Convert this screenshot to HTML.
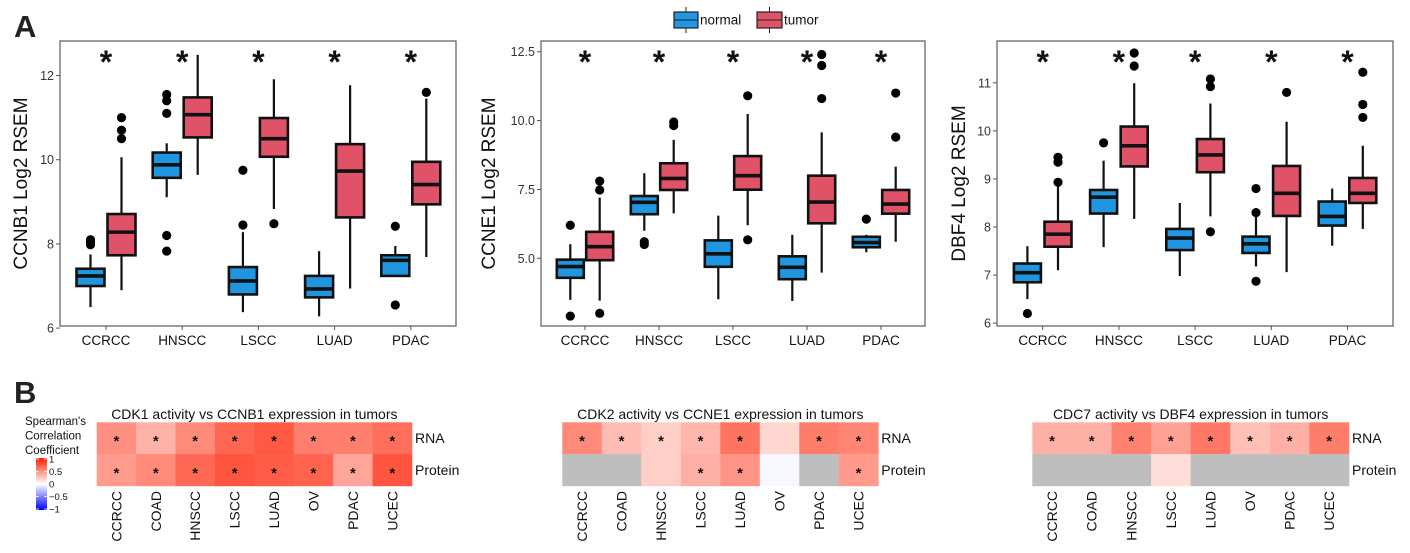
<!DOCTYPE html>
<html><head><meta charset="utf-8"><style>
html,body{margin:0;padding:0;background:#fff}
svg{display:block;font-family:"Liberation Sans",Arial,sans-serif}
</style></head><body>
<svg id="fig" width="1410" height="553" viewBox="0 0 1410 553" xmlns="http://www.w3.org/2000/svg">
<text x="14" y="37" font-size="31" font-weight="bold" fill="#222">A</text>
<text x="14" y="403" font-size="31" font-weight="bold" fill="#222">B</text>
<g>
<line x1="686" y1="7" x2="686" y2="33" stroke="#222" stroke-width="1"/>
<rect x="674" y="12" width="24" height="16" fill="#2196E0" stroke="#222" stroke-width="1.2"/>
<line x1="674" y1="20" x2="698" y2="20" stroke="#222" stroke-width="1"/>
<text x="700" y="24.5" font-size="13.5" fill="#111">normal</text>
<line x1="769.5" y1="7" x2="769.5" y2="33" stroke="#222" stroke-width="1"/>
<rect x="757" y="12" width="25" height="16" fill="#E05268" stroke="#222" stroke-width="1.2"/>
<line x1="757" y1="20" x2="782" y2="20" stroke="#222" stroke-width="1"/>
<text x="784" y="24.5" font-size="13.5" fill="#111">tumor</text>
</g>
</svg>
<script>
// ---------- Box plot data ----------
const boxCategories = ["CCRCC","HNSCC","LSCC","LUAD","PDAC"];
// each entry: [low, q1, median, q3, high]
const ccnb1Normal = [[6.5,7.0,7.24,7.41,7.75],[9.11,9.57,9.88,10.17,10.39],[6.38,6.8,7.12,7.45,8.28],[6.28,6.73,6.93,7.24,7.83],[7.24,7.24,7.61,7.73,7.95]];
const ccnb1Tumor  = [[6.9,7.73,8.28,8.71,10.06],[9.64,10.53,11.07,11.48,12.49],[8.83,10.07,10.5,10.99,11.91],[6.94,8.63,9.73,10.37,11.77],[7.69,8.94,9.41,9.95,11.45]];
const ccnb1NormalOut = [[8.1,8.04,7.98],[11.55,11.4,11.1,8.2,7.83],[9.75,8.45],[],[8.42,6.55]];
const ccnb1TumorOut  = [[11.0,10.7,10.5],[],[8.48],[],[11.6]];
const ccnb1Ticks = [6,8,10,12];

const ccne1Normal = [[3.49,4.29,4.7,4.95,5.51],[6.0,6.6,7.03,7.26,8.09],[3.51,4.69,5.16,5.65,6.55],[3.45,4.24,4.67,5.07,5.85],[5.22,5.4,5.57,5.78,5.85]];
const ccne1Tumor  = [[3.46,4.93,5.42,5.96,7.2],[6.63,7.48,7.9,8.45,9.3],[6.2,7.49,8.0,8.71,10.24],[4.48,6.27,7.04,8.0,9.57],[5.6,6.62,6.97,7.48,8.33]];
const ccne1NormalOut = [[6.2,2.9],[5.6,5.5],[],[],[6.42]];
const ccne1TumorOut  = [[7.8,7.48,3.0],[9.95,9.82],[10.9,5.67],[12.4,12.0,10.8],[11.0,9.4]];
const ccne1Ticks = [5.0,7.5,10.0,12.5];

const dbf4Normal = [[6.5,6.85,7.05,7.24,7.6],[7.58,8.28,8.62,8.77,9.38],[6.98,7.52,7.77,7.96,8.5],[7.18,7.46,7.65,7.8,8.22],[7.61,8.03,8.22,8.53,8.8]];
const dbf4Tumor  = [[7.1,7.59,7.85,8.11,8.85],[8.17,9.26,9.69,10.09,10.99],[8.22,9.14,9.5,9.83,10.57],[7.06,8.23,8.7,9.27,10.19],[7.96,8.5,8.7,9.02,9.69]];
const dbf4NormalOut = [[6.2],[9.75],[],[8.8,8.3,6.87],[]];
const dbf4TumorOut  = [[9.45,9.35,8.93],[11.62,11.35],[11.08,10.92,7.9],[10.8],[11.22,10.55,10.28]];
const dbf4Ticks = [6,7,8,9,10,11];

// ---------- Heatmap data ----------
const heatCategories = ["CCRCC","COAD","HNSCC","LSCC","LUAD","OV","PDAC","UCEC"];
const cdk1Rna     = [0.5,0.34,0.52,0.68,0.74,0.57,0.57,0.64];
const cdk1Protein = [0.44,0.52,0.67,0.76,0.72,0.7,0.4,0.76];
const cdk1RnaSig     = [1,1,1,1,1,1,1,1];
const cdk1ProteinSig = [1,1,1,1,1,1,1,1];
const cdk2Rna     = [0.52,0.3,0.22,0.32,0.62,0.18,0.58,0.54];
const cdk2Protein = [null,null,0.22,0.35,0.48,-0.03,null,0.45];
const cdk2RnaSig     = [1,1,1,1,1,0,1,1];
const cdk2ProteinSig = [0,0,0,1,1,0,0,1];
const cdc7Rna     = [0.35,0.35,0.56,0.42,0.6,0.28,0.35,0.58];
const cdc7Protein = [null,null,null,0.15,null,null,null,null];
const cdc7RnaSig     = [1,1,1,1,1,1,1,1];
const cdc7ProteinSig = [0,0,0,0,0,0,0,0];

const NS="http://www.w3.org/2000/svg";
const svg=document.getElementById('fig');
function mk(tag,attrs,parent){const e=document.createElementNS(NS,tag);for(const k in attrs)e.setAttribute(k,attrs[k]);(parent||svg).appendChild(e);return e;}

function boxPanel(cfg){
  const g=mk('g',{});
  
  
  const [x0,x1,y0,y1]=cfg.rect;
  const yv=v=>y1-(v-cfg.dom[0])/(cfg.dom[1]-cfg.dom[0])*(y1-y0);
  const xc=i=>cfg.cx0+i*cfg.step;
  const frame=mk('rect',{x:x0,y:y0,width:x1-x0,height:y1-y0,fill:'none',stroke:'#666','stroke-width':1.3},g);
  
  
  cfg.ticks.forEach(t=>{
    const y=yv(t);
    mk('line',{x1:x0-4,x2:x0,y1:y,y2:y,stroke:'#555','stroke-width':1},g);
    const tx=mk('text',{x:x0-6,y:y+4.5,'font-size':12.5,'text-anchor':'end',fill:'#333'},g);
    tx.textContent=cfg.fmt(t);
    
    
  });
  const yt=mk('text',{x:0,y:0,'font-size':19,'text-anchor':'middle',fill:'#111',transform:`translate(${cfg.titleX},${(y0+y1)/2}) rotate(-90)`},g);
  yt.textContent=cfg.title;
  
  
  boxCategories.forEach((c,i)=>{
    const x=xc(i);
    mk('line',{x1:x,x2:x,y1:y1,y2:y1+4,stroke:'#555','stroke-width':1},g);
    const lb=mk('text',{x:x,y:y1+19,'font-size':13.5,'text-anchor':'middle',fill:'#111'},g);
    lb.textContent=c;
    
    
    const st=mk('text',{x:x,y:y0+32,'font-size':32,'font-weight':'bold','text-anchor':'middle',fill:'#111'},g);
    st.textContent='*';
    
    
    [[cfg.normal,cfg.normalOut,-cfg.off,'#2196E0','normal'],[cfg.tumor,cfg.tumorOut,cfg.off,'#E05268','tumor']].forEach(([d,o,off,col,nm])=>{
      const s=d[i];const bx=x+off;const w=cfg.bw;
      const bg=mk('g',{},g);
      
      
      mk('line',{x1:bx,x2:bx,y1:yv(s[0]),y2:yv(s[4]),stroke:'#111','stroke-width':2.2},bg);
      mk('rect',{x:bx-w/2,y:yv(s[3]),width:w,height:yv(s[1])-yv(s[3]),fill:col,stroke:'#111','stroke-width':2.6},bg);
      mk('line',{x1:bx-w/2,x2:bx+w/2,y1:yv(s[2]),y2:yv(s[2]),stroke:'#111','stroke-width':3.6},bg);
      o[i].forEach(v=>{
        const p=mk('circle',{cx:bx,cy:yv(v),r:4.6,fill:'#000'},bg);
        
        
      });
    });
  });
}
boxPanel({name:'ccnb1-boxplot',rect:[60,456,41,326],dom:[6.05,12.82],cx0:106,step:76.2,off:15.5,bw:28,ticks:ccnb1Ticks,fmt:t=>String(t),title:'CCNB1 Log2 RSEM',titleX:27,normal:ccnb1Normal,tumor:ccnb1Tumor,normalOut:ccnb1NormalOut,tumorOut:ccnb1TumorOut});
boxPanel({name:'ccne1-boxplot',rect:[541,925,41,326],dom:[2.54,12.89],cx0:585,step:74,off:14.7,bw:27,ticks:ccne1Ticks,fmt:t=>t.toFixed(1),title:'CCNE1 Log2 RSEM',titleX:495,normal:ccne1Normal,tumor:ccne1Tumor,normalOut:ccne1NormalOut,tumorOut:ccne1TumorOut});
boxPanel({name:'dbf4-boxplot',rect:[997,1393,41,326],dom:[5.94,11.87],cx0:1042.7,step:76.2,off:15.3,bw:27,ticks:dbf4Ticks,fmt:t=>String(t),title:'DBF4 Log2 RSEM',titleX:965,normal:dbf4Normal,tumor:dbf4Tumor,normalOut:dbf4NormalOut,tumorOut:dbf4TumorOut});

function heatColor(v){
  if(v===null)return '#BEBEBE';
  if(v>=0){const g=Math.round(255-v*225),b=Math.round(255-v*255);return `rgb(255,${g},${b})`;}
  const a=-v;return `rgb(${Math.round(255-a*255)},${Math.round(255-a*255)},255)`;
}
function heatmap(cfg){
  const g=mk('g',{});
  
  
  const cw=(cfg.x1-cfg.x0)/heatCategories.length, ch=31.8;
  const tt=mk('text',{x:(cfg.x0+cfg.x1)/2,y:419,'font-size':14,'text-anchor':'middle',fill:'#111'},g);
  tt.textContent=cfg.title;
  
  
  [[cfg.rna,cfg.rnaSig,'RNA'],[cfg.protein,cfg.proteinSig,'Protein']].forEach(([vals,sig,lab],r)=>{
    const y=422.3+r*ch;
    vals.forEach((v,i)=>{
      const x=cfg.x0+i*cw;
      const c=mk('rect',{x:x,y:y,width:cw+0.3,height:ch+0.3,fill:heatColor(v)},g);
      
      
      if(sig[i]){
        const s=mk('text',{x:x+cw/2,y:y+ch/2+8,'font-size':15,'font-weight':'bold','text-anchor':'middle',fill:'#111'},g);
        s.textContent='*';
        
        
      }
    });
    const rl=mk('text',{x:cfg.x1+3,y:y+ch/2+5,'font-size':14,fill:'#111'},g);
    rl.textContent=lab;
    
    
  });
  heatCategories.forEach((c,i)=>{
    const x=cfg.x0+i*cw+cw/2;
    const t=mk('text',{x:0,y:0,'font-size':14,'text-anchor':'end',fill:'#111',transform:`translate(${x+5},${491}) rotate(-90)`},g);
    t.textContent=c;
    
    
  });
}
heatmap({name:'cdk1-heatmap',x0:96.7,x1:412,title:'CDK1 activity vs CCNB1 expression in tumors',rna:cdk1Rna,protein:cdk1Protein,rnaSig:cdk1RnaSig,proteinSig:cdk1ProteinSig});
heatmap({name:'cdk2-heatmap',x0:562.3,x1:878.3,title:'CDK2 activity vs CCNE1 expression in tumors',rna:cdk2Rna,protein:cdk2Protein,rnaSig:cdk2RnaSig,proteinSig:cdk2ProteinSig});
heatmap({name:'cdc7-heatmap',x0:1032.3,x1:1349,title:'CDC7 activity vs DBF4 expression in tumors',rna:cdc7Rna,protein:cdc7Protein,rnaSig:cdc7RnaSig,proteinSig:cdc7ProteinSig});

// color legend
const lg=mk('g',{});


["Spearman's","Correlation","Coefficient"].forEach((s,i)=>{
  const t=mk('text',{x:25,y:425+i*14.5,'font-size':11.5,fill:'#111'},lg);
  t.textContent=s;
});
const defs=mk('defs',{},lg);
const gr=mk('linearGradient',{id:'cg',x1:0,y1:0,x2:0,y2:1},defs);
mk('stop',{offset:'0','stop-color':'#FF1E00'},gr);
mk('stop',{offset:'0.5','stop-color':'#FFFFFF'},gr);
mk('stop',{offset:'1','stop-color':'#0000FF'},gr);
mk('rect',{x:36,y:458,width:11,height:52,fill:'url(#cg)'},lg);
const legendTicks=["1","0.5","0","\u22120.5","\u22121"];
legendTicks.forEach((s,i)=>{
  const y=459+i*12.5;
  mk('line',{x1:36,x2:39,y1:y,y2:y,stroke:'#fff','stroke-width':0.8},lg);
  mk('line',{x1:44,x2:47,y1:y,y2:y,stroke:'#fff','stroke-width':0.8},lg);
  const t=mk('text',{x:49,y:y+3.5,'font-size':9.5,fill:'#111'},lg);
  t.textContent=s;
});
</script>
</body></html>
